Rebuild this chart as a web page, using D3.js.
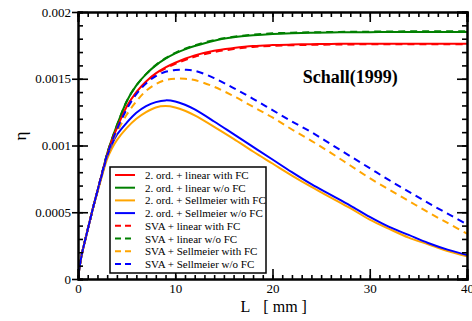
<!DOCTYPE html>
<meta charset="utf-8">
<script src="https://d3js.org/d3.v7.min.js"></script>
<style>
  body { margin: 0; background: #fff; }
  text { font-family: "Liberation Serif", "Times New Roman", serif; }
</style>
<div id="chart"></div>
<script>
// L in mm, eta in units of 1e-3
var L = [0, 0.25, 0.5, 1, 1.5, 2, 2.5, 3, 3.5, 4, 5, 6, 7, 8, 9, 10, 11, 12, 14, 16, 18, 20, 22, 24, 26, 28, 30, 32, 34, 36, 38, 40];

var ordLinFC   = [0, 0.13, 0.22, 0.37, 0.52, 0.66, 0.80, 0.93, 1.04, 1.13, 1.29, 1.40, 1.48, 1.54, 1.585, 1.62, 1.65, 1.675, 1.71, 1.73, 1.745, 1.752, 1.756, 1.759, 1.761, 1.762, 1.762, 1.763, 1.763, 1.763, 1.763, 1.763];
var ordLinNoFC = [0, 0.13, 0.22, 0.37, 0.52, 0.66, 0.80, 0.94, 1.05, 1.15, 1.33, 1.45, 1.535, 1.60, 1.65, 1.69, 1.72, 1.745, 1.785, 1.81, 1.825, 1.835, 1.841, 1.845, 1.847, 1.848, 1.849, 1.85, 1.85, 1.85, 1.85, 1.85];
var ordSelFC   = [0, 0.13, 0.22, 0.37, 0.52, 0.65, 0.78, 0.90, 0.98, 1.04, 1.13, 1.20, 1.25, 1.285, 1.295, 1.285, 1.26, 1.225, 1.14, 1.05, 0.955, 0.865, 0.775, 0.69, 0.61, 0.53, 0.445, 0.375, 0.31, 0.26, 0.21, 0.17];
var ordSelNoFC = [0, 0.13, 0.22, 0.37, 0.52, 0.66, 0.79, 0.92, 1.01, 1.08, 1.17, 1.245, 1.295, 1.325, 1.338, 1.33, 1.305, 1.27, 1.18, 1.085, 0.99, 0.895, 0.80, 0.71, 0.63, 0.55, 0.465, 0.39, 0.33, 0.27, 0.22, 0.18];
var svaLinFC   = [0, 0.13, 0.22, 0.37, 0.52, 0.66, 0.80, 0.93, 1.04, 1.13, 1.285, 1.395, 1.475, 1.535, 1.578, 1.612, 1.64, 1.665, 1.70, 1.722, 1.738, 1.746, 1.751, 1.754, 1.756, 1.757, 1.758, 1.758, 1.758, 1.758, 1.758, 1.758];
var svaLinNoFC = [0, 0.13, 0.22, 0.37, 0.52, 0.66, 0.80, 0.94, 1.05, 1.15, 1.33, 1.45, 1.535, 1.602, 1.654, 1.694, 1.725, 1.75, 1.79, 1.815, 1.83, 1.84, 1.845, 1.848, 1.85, 1.852, 1.853, 1.854, 1.855, 1.855, 1.855, 1.855];
var svaSelFC   = [0, 0.13, 0.22, 0.37, 0.52, 0.66, 0.79, 0.92, 1.02, 1.10, 1.23, 1.33, 1.41, 1.46, 1.49, 1.50, 1.50, 1.49, 1.44, 1.37, 1.29, 1.21, 1.12, 1.035, 0.945, 0.85, 0.755, 0.67, 0.585, 0.50, 0.42, 0.34];
var svaSelNoFC = [0, 0.13, 0.22, 0.37, 0.52, 0.66, 0.80, 0.93, 1.03, 1.12, 1.27, 1.385, 1.465, 1.52, 1.552, 1.565, 1.567, 1.56, 1.505, 1.43, 1.35, 1.265, 1.18, 1.10, 1.01, 0.92, 0.83, 0.74, 0.655, 0.57, 0.49, 0.41];

var seriesNames = ["2. ord. + linear with FC", "2. ord. + linear w/o FC", "2. ord. + Sellmeier with FC", "2. ord. + Sellmeier w/o FC",
                   "SVA + linear with FC", "SVA + linear w/o FC", "SVA + Sellmeier with FC", "SVA + Sellmeier w/o FC"];
var seriesValues = [ordLinFC, ordLinNoFC, ordSelFC, ordSelNoFC, svaLinFC, svaLinNoFC, svaSelFC, svaSelNoFC];
var seriesColors = ["#ff0000", "#008000", "#ffa500", "#0000ff", "#ff0000", "#008000", "#ffa500", "#0000ff"];
var seriesDashed = [false, false, false, false, true, true, true, true];

var xTicks = [0, 10, 20, 30, 40];
var yTicks = [0, 0.0005, 0.001, 0.0015, 0.002];

var margin = {top: 12, right: 5, bottom: 42, left: 78},
    width = 472 - margin.left - margin.right,
    height = 321 - margin.top - margin.bottom;

var svg = d3.select("#chart").append("svg")
    .attr("width", 472).attr("height", 321)
  .append("g")
    .attr("transform", "translate(" + margin.left + "," + margin.top + ")");

var x = d3.scaleLinear().domain([0, 40]).range([0, width]);
var y = d3.scaleLinear().domain([0, 0.002]).range([height, 0]);

svg.append("clipPath").attr("id", "clip")
  .append("rect").attr("width", width).attr("height", height);

// curves
var line = d3.line()
  .x(function(d) { return x(d[0]); })
  .y(function(d) { return y(d[1] * 1e-3); })
  .curve(d3.curveCatmullRom.alpha(0.5));

var order = [1, 0, 2, 3, 5, 4, 6, 7];
order.forEach(function(i) {
  svg.append("path")
    .datum(L.map(function(l, k) { return [l, seriesValues[i][k]]; }))
    .attr("clip-path", "url(#clip)")
    .attr("fill", "none")
    .attr("stroke", seriesColors[i])
    .attr("stroke-width", 2)
    .attr("stroke-dasharray", seriesDashed[i] ? "7,5" : null)
    .attr("d", line);
});

// axes with inward ticks on all four sides
var xMinor = d3.range(0, 41, 1), yMinor = d3.range(0, 0.00201, 0.0001);

var bottomAx = svg.append("g").attr("transform", "translate(0," + height + ")")
  .call(d3.axisBottom(x).tickValues(xMinor).tickSize(-4).tickFormat(""));
bottomAx.append("g").call(d3.axisBottom(x).tickValues(xTicks).tickSize(-10).tickPadding(5).tickFormat(d3.format("d")));
var topAx = svg.append("g")
  .call(d3.axisTop(x).tickValues(xMinor).tickSize(-5).tickFormat(""));
topAx.append("g").call(d3.axisTop(x).tickValues(xTicks).tickSize(-10).tickFormat(""));

var leftAx = svg.append("g")
  .call(d3.axisLeft(y).tickValues(yMinor).tickSize(-5).tickFormat(""));
var leftMajor = leftAx.append("g").call(d3.axisLeft(y).tickValues(yTicks).tickSizeInner(-10).tickSizeOuter(0)
  .tickFormat(function(d) { return d === 0 ? "0" : String(+d.toFixed(4)); }));
leftMajor.selectAll(".tick line").attr("x1", -6).attr("x2", 10);
var rightAx = svg.append("g").attr("transform", "translate(" + width + ",0)")
  .call(d3.axisRight(y).tickValues(yMinor).tickSize(-5).tickFormat(""));
rightAx.append("g").call(d3.axisRight(y).tickValues(yTicks).tickSize(-10).tickFormat(""));

svg.selectAll(".domain").attr("stroke", "#000").attr("stroke-width", 2);
svg.selectAll(".tick line").attr("stroke", "#000").attr("stroke-width", 1.6);
svg.selectAll(".tick text").attr("fill", "#000")
  .attr("font-size", 13)
  .attr("font-family", "'Liberation Serif', serif");
leftMajor.selectAll(".tick text").attr("x", -7);

// labels
svg.append("text")
  .attr("x", x(17.2)).attr("y", height + 33)
  .attr("text-anchor", "middle")
  .style("font-size", "16px")
  .text("L");
svg.append("text")
  .attr("x", x(21.3)).attr("y", height + 33)
  .attr("text-anchor", "middle")
  .style("font-size", "16px")
  .text("[ mm ]");

svg.append("text")
  .attr("transform", "translate(" + (-52) + "," + (y(0.00107)) + ") rotate(-90)")
  .attr("text-anchor", "middle")
  .style("font-size", "17px")
  .text("η");

svg.append("text")
  .attr("x", x(28)).attr("y", y(0.00147))
  .attr("text-anchor", "middle")
  .style("font-size", "18px").style("font-weight", "bold")
  .text("Schall(1999)");

// legend
var legend = svg.append("g").attr("transform", "translate(32,155)");
legend.append("rect")
  .attr("width", 156).attr("height", 106)
  .attr("fill", "#fff").attr("stroke", "#000").attr("stroke-width", 1.5);
var rows = legend.selectAll("g.row").data(seriesNames).enter().append("g")
  .attr("transform", function(d, i) { return "translate(0," + (8 + i * 12.7) + ")"; });
rows.append("line")
  .attr("x1", 5).attr("x2", 25).attr("y1", 0).attr("y2", 0)
  .attr("stroke", function(d, i) { return seriesColors[i]; })
  .attr("stroke-width", 2)
  .attr("stroke-dasharray", function(d, i) { return seriesDashed[i] ? "6,4" : null; });
rows.append("text")
  .attr("x", 35).attr("y", 4)
  .style("font-size", "11px")
  .text(function(d) { return d; });
</script>
